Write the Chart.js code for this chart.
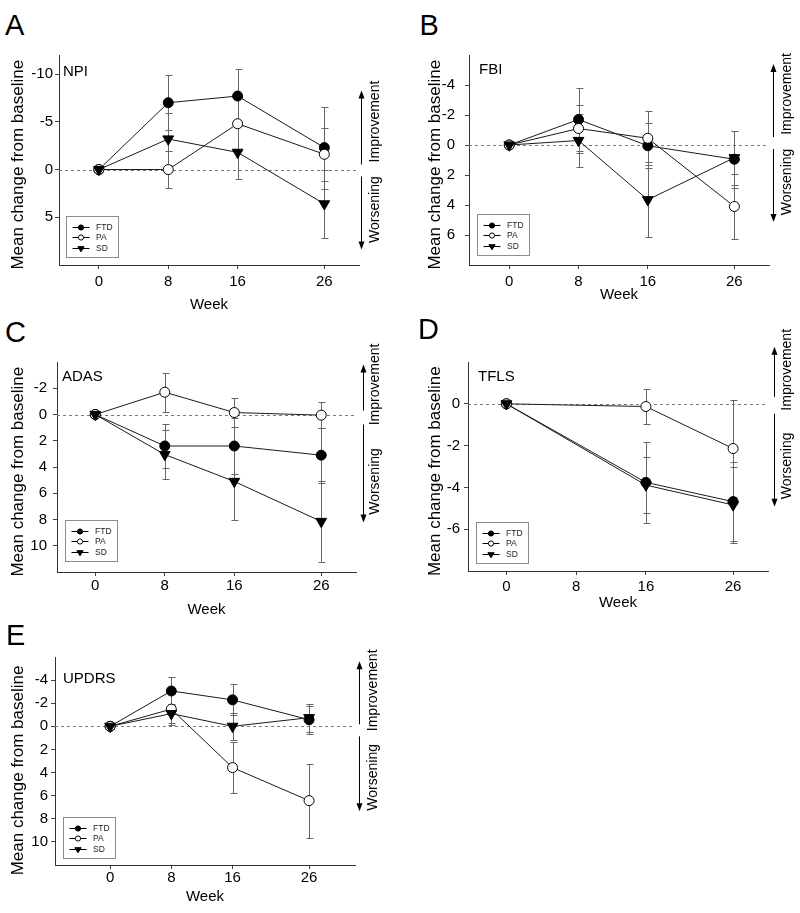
<!DOCTYPE html>
<html><head><meta charset="utf-8">
<script src="https://cdn.jsdelivr.net/npm/chart.js@4.4.1/dist/chart.umd.min.js"></script>
<style>
html,body{margin:0;padding:0;background:#fff}
body{width:800px;height:913px;position:relative;overflow:hidden;font-family:"Liberation Sans",Arial,sans-serif}
canvas{position:absolute}
.lbl{position:absolute;font-size:29px;line-height:29px;color:#000}
</style></head><body>
<script>
// ---------- data ----------
const weeks = [0, 8, 16, 26];
const groupNames = ['FTD', 'PA', 'SD'];

// A: NPI
const npiFTD = [0, -7.0, -7.7, -2.3];
const npiFTDsd = [0, 2.9, 2.8, 4.3];
const npiPA = [0, 0.0, -4.8, -1.6];
const npiPAsd = [0, 1.9, 2.9, 2.75];
const npiSD = [0, -3.2, -1.8, 3.6];
const npiSDsd = [0, 2.75, 2.8, 3.6];
const npiYTicks = [-10, -5, 0, 5];

// B: FBI
const fbiFTD = [0, -1.7, 0.05, 0.95];
const fbiFTDsd = [0, 2.1, 1.5, 1.9];
const fbiPA = [0, -1.1, -0.45, 4.1];
const fbiPAsd = [0, 1.6, 1.8, 2.15];
const fbiSD = [0, -0.3, 3.65, 0.85];
const fbiSDsd = [0, 1.75, 2.5, 1.8];
const fbiYTicks = [-4, -2, 0, 2, 4, 6];

// C: ADAS
const adasFTD = [0, 2.4, 2.4, 3.1];
const adasFTDsd = [0, 1.7, 2.1, 2.1];
const adasPA = [0, -1.7, -0.15, 0.05];
const adasPAsd = [0, 1.5, 1.07, 1.0];
const adasSD = [0, 3.05, 5.1, 8.15];
const adasSDsd = [0, 1.9, 2.9, 3.1];
const adasYTicks = [-2, 0, 2, 4, 6, 8, 10];

// D: TFLS (no week-8 assessment)
const tflsFTD = [0, null, -3.76, -4.68];
const tflsFTDsd = [0, null, 1.93, 1.88];
const tflsPA = [0, null, -0.13, -2.14];
const tflsPAsd = [0, null, 0.85, 2.33];
const tflsSD = [0, null, -3.89, -4.84];
const tflsSDsd = [0, null, 1.35, 1.8];
const tflsYTicks = [0, -2, -4, -6];

// E: UPDRS
const updrsFTD = [0, -3.06, -2.29, -0.57];
const updrsFTDsd = [0, 1.23, 1.34, 1.2];
const updrsPA = [0, -1.49, 3.57, 6.43];
const updrsPAsd = [0, 1.35, 2.2, 3.2];
const updrsSD = [0, -1.1, 0.0, -0.75];
const updrsSDsd = [0, 0.85, 1.15, 1.2];
const updrsYTicks = [-4, -2, 0, 2, 4, 6, 8, 10];

// ---------- layout ----------
const panels = [
  {letter:'A', letterPos:[5,11], name:'NPI', vals:[npiFTD,npiPA,npiSD], errs:[npiFTDsd,npiPAsd,npiSDsd], yTicks:npiYTicks,
   canvas:{x:0,y:0,w:400,h:316}, area:{l:59,t:55,r:359,b:265}, xRange:[-4.6,30], yRange:[-12,10], reverse:true,
   yTitleX:18, yTitleShift:2, yTickPad:2, xTickPad:4, xTitleY:305, nameAt:[4,17], legendAt:[7,8],
   arrows:{dx:2, tdx:16, up:[-5,-79], down:[7,80], imp:-48, wor:40}},
  {letter:'B', letterPos:[419.5,11], name:'FBI', vals:[fbiFTD,fbiPA,fbiSD], errs:[fbiFTDsd,fbiPAsd,fbiSDsd], yTicks:fbiYTicks,
   canvas:{x:400,y:0,w:400,h:316}, area:{l:469,t:55,r:769,b:265}, xRange:[-4.65,30], yRange:[-6,8], reverse:true,
   yTitleX:435, yTitleShift:2, yTickPad:10, xTickPad:4, xTitleY:295, nameAt:[10,15], legendAt:[8,10],
   arrows:{dx:4, tdx:18, up:[-8,-81], down:[4,77], imp:-51, wor:37}},
  {letter:'C', letterPos:[5,318], name:'ADAS', vals:[adasFTD,adasPA,adasSD], errs:[adasFTDsd,adasPAsd,adasSDsd], yTicks:adasYTicks,
   canvas:{x:0,y:310,w:400,h:312}, area:{l:57,t:362,r:356,b:572}, xRange:[-4.4,30], yRange:[-4,12], reverse:true,
   yTitleX:18.3, yTitleShift:2, yTickPad:6, xTickPad:1, xTitleY:610, nameAt:[5,15], legendAt:[8,11],
   arrows:{dx:7, tdx:19, up:[-4,-50], down:[10,108], imp:-30, wor:67}},
  {letter:'D', letterPos:[418,314.5], name:'TFLS', vals:[tflsFTD,tflsPA,tflsSD], errs:[tflsFTDsd,tflsPAsd,tflsSDsd], yTicks:tflsYTicks,
   canvas:{x:400,y:310,w:400,h:305}, area:{l:468,t:362,r:768,b:571}, xRange:[-4.4,30], yRange:[-8,2], reverse:false,
   yTitleX:435, yTitleShift:2, yTickPad:4, xTickPad:3, xTitleY:603.3, nameAt:[10,15], legendAt:[8,8],
   arrows:{dx:5.5, tdx:19, up:[-7,-57], down:[10,103], imp:-34, wor:62}},
  {letter:'E', letterPos:[6,621], name:'UPDRS', vals:[updrsFTD,updrsPA,updrsSD], errs:[updrsFTDsd,updrsPAsd,updrsSDsd], yTicks:updrsYTicks,
   canvas:{x:0,y:610,w:400,h:303}, area:{l:55,t:657,r:355,b:865}, xRange:[-7.2,32], yRange:[-6,12], reverse:true,
   yTitleX:18.3, yTitleShift:4, yTickPad:3, xTickPad:0, xTitleY:896.7, nameAt:[8,21.6], legendAt:[8,7],
   arrows:{dx:4.3, tdx:18, up:[-2,-65], down:[10,85], imp:-36, wor:51}}
];

const FONT = '"Liberation Sans", Arial, sans-serif';
Chart.defaults.font.family = FONT;
Chart.defaults.color = '#000';

const markerStyle = [
  {pointStyle:'circle', rotation:0, radius:5, fill:'#000'},
  {pointStyle:'circle', rotation:0, radius:5, fill:'#fff'},
  {pointStyle:'triangle', rotation:180, radius:6.2, fill:'#000'}
];

function drawMarker(ctx, i, x, y, r) {
  const m = markerStyle[i];
  ctx.save();
  ctx.lineWidth = 1; ctx.strokeStyle = '#000'; ctx.fillStyle = m.fill;
  ctx.beginPath();
  if (m.pointStyle === 'circle') {
    ctx.arc(x, y, r, 0, Math.PI * 2);
  } else {
    ctx.moveTo(x - r * 0.95, y - r * 0.55);
    ctx.lineTo(x + r * 0.95, y - r * 0.55);
    ctx.lineTo(x, y + r * 1.0);
    ctx.closePath();
  }
  ctx.fill(); ctx.stroke();
  ctx.restore();
}

const deco = {
  id: 'deco',
  beforeDatasetsDraw(chart, args, p) {
    const {ctx, chartArea: a, scales: {x, y}} = chart;
    const y0 = Math.round(y.getPixelForValue(0)) + 0.5;
    ctx.save();
    ctx.lineWidth = 1;
    ctx.strokeStyle = '#7a7a7a';
    ctx.setLineDash([3, 3]);
    ctx.beginPath(); ctx.moveTo(a.left, y0); ctx.lineTo(a.right, y0); ctx.stroke();
    ctx.setLineDash([]);
    ctx.strokeStyle = '#666';
    chart.data.datasets.forEach(ds => {
      ds.data.forEach(pt => {
        if (!pt.e) return;
        const px = Math.round(x.getPixelForValue(pt.x)) + 0.5;
        const yt = Math.round(y.getPixelForValue(pt.y - pt.e)) + 0.5;
        const yb = Math.round(y.getPixelForValue(pt.y + pt.e)) + 0.5;
        ctx.beginPath();
        ctx.moveTo(px, yt); ctx.lineTo(px, yb);
        ctx.moveTo(px - 3, yt); ctx.lineTo(px + 4, yt);
        ctx.moveTo(px - 3, yb); ctx.lineTo(px + 4, yb);
        ctx.stroke();
      });
    });
    ctx.restore();
  },
  afterDraw(chart, args, p) {
    const {ctx, chartArea: a, scales: {y}} = chart;
    const y0 = y.getPixelForValue(0);
    ctx.save();
    // panel name
    ctx.fillStyle = '#000';
    ctx.font = '15px ' + FONT;
    ctx.textAlign = 'left'; ctx.textBaseline = 'middle';
    ctx.fillText(p.name, a.left + p.nameAt[0], a.top + p.nameAt[1]);
    // arrows
    const ar = p.arrows;
    const ax = Math.round(a.right + ar.dx) + 0.5;
    ctx.strokeStyle = '#000'; ctx.lineWidth = 1;
    ctx.beginPath();
    ctx.moveTo(ax, y0 + ar.up[0]); ctx.lineTo(ax, y0 + ar.up[1] + 4);
    ctx.moveTo(ax, y0 + ar.down[0]); ctx.lineTo(ax, y0 + ar.down[1] - 4);
    ctx.stroke();
    ctx.beginPath();
    ctx.moveTo(ax, y0 + ar.up[1]); ctx.lineTo(ax - 3, y0 + ar.up[1] + 8); ctx.lineTo(ax + 3, y0 + ar.up[1] + 8); ctx.closePath();
    ctx.moveTo(ax, y0 + ar.down[1]); ctx.lineTo(ax - 3, y0 + ar.down[1] - 8); ctx.lineTo(ax + 3, y0 + ar.down[1] - 8); ctx.closePath();
    ctx.fill();
    ctx.font = '14px ' + FONT;
    ctx.textAlign = 'center'; ctx.textBaseline = 'middle';
    [[ar.imp, 'Improvement'], [ar.wor, 'Worsening']].forEach(([off, txt]) => {
      ctx.save();
      ctx.translate(a.right + ar.tdx, y0 + off);
      ctx.rotate(-Math.PI / 2);
      ctx.fillText(txt, 0, 0);
      ctx.restore();
    });
    // legend
    const bw = 52, bh = 41;
    const bx = Math.round(a.left + p.legendAt[0]) + 0.5;
    const by = Math.round(a.bottom - p.legendAt[1] - bh) + 0.5;
    ctx.strokeStyle = '#8c8c8c'; ctx.lineWidth = 1;
    ctx.strokeRect(bx, by, bw, bh);
    ctx.font = '8.5px ' + FONT;
    ctx.textAlign = 'left'; ctx.textBaseline = 'middle';
    chart.data.datasets.forEach((ds, i) => {
      const ry = Math.round(by + 10.3 + i * 10.6) + 0.5;
      ctx.strokeStyle = '#000';
      ctx.beginPath(); ctx.moveTo(bx + 6, ry); ctx.lineTo(bx + 23, ry); ctx.stroke();
      drawMarker(ctx, i, bx + 14.5, ry, i === 2 ? 3.3 : 2.6);
      ctx.fillStyle = '#222';
      ctx.fillText(ds.label, bx + 29.5, ry);
    });
    ctx.restore();
  }
};

function build(p) {
  const lbl = document.createElement('div');
  lbl.className = 'lbl';
  lbl.textContent = p.letter;
  lbl.style.left = p.letterPos[0] + 'px';
  lbl.style.top = p.letterPos[1] + 'px';
  document.body.appendChild(lbl);

  const cv = document.createElement('canvas');
  cv.width = p.canvas.w; cv.height = p.canvas.h;
  cv.style.left = p.canvas.x + 'px'; cv.style.top = p.canvas.y + 'px';
  cv.style.width = p.canvas.w + 'px'; cv.style.height = p.canvas.h + 'px';
  document.body.appendChild(cv);

  const datasets = groupNames.map((g, i) => ({
    label: g,
    data: weeks.map((w, j) => ({x: w, y: p.vals[i][j], e: p.errs[i][j]})).filter(d => d.y !== null),
    showLine: true,
    borderColor: '#1a1a1a',
    borderWidth: 1,
    pointStyle: markerStyle[i].pointStyle,
    rotation: markerStyle[i].rotation,
    pointRadius: markerStyle[i].radius,
    pointBackgroundColor: markerStyle[i].fill,
    pointBorderColor: '#000',
    pointBorderWidth: 1,
    order: 3 - i
  }));

  const yTitleLH = 17 * 1.2, xTitleLH = 15 * 1.2;
  // trailing no-break spaces nudge the rotated title a few px down, as in the original
  const yTitle = 'Mean change from baseline' + '\u00A0'.repeat(p.yTitleShift);
  new Chart(cv, {
    type: 'scatter',
    data: {datasets},
    plugins: [deco],
    options: {
      responsive: false, animation: false, devicePixelRatio: 1,
      events: [],
      layout: {autoPadding: false, padding: {left: 0, top: p.area.t - p.canvas.y, right: p.canvas.x + p.canvas.w - p.area.r, bottom: 0}},
      plugins: {legend: {display: false}, tooltip: {enabled: false}, deco: p},
      scales: {
        x: {
          type: 'linear', min: p.xRange[0], max: p.xRange[1],
          afterBuildTicks: s => { s.ticks = weeks.map(v => ({value: v})); },
          afterFit: s => { s.height = p.canvas.y + p.canvas.h - p.area.b; },
          grid: {display: true, drawOnChartArea: false, drawTicks: true, tickLength: 4, color: '#444'},
          border: {display: true, color: '#333', width: 1},
          ticks: {padding: p.xTickPad, color: '#000', font: {size: 15}, maxRotation: 0, autoSkip: false, callback: v => String(v)},
          title: {display: true, text: 'Week', color: '#000', font: {size: 15},
                  padding: {top: 0, bottom: p.canvas.h - (p.xTitleY - p.canvas.y) - xTitleLH / 2}}
        },
        y: {
          type: 'linear', min: p.yRange[0], max: p.yRange[1], reverse: p.reverse,
          afterBuildTicks: s => { s.ticks = p.yTicks.map(v => ({value: v})); },
          afterFit: s => { s.width = p.area.l - p.canvas.x; },
          grid: {display: true, drawOnChartArea: false, drawTicks: true, tickLength: 4, color: '#444'},
          border: {display: true, color: '#333', width: 1},
          ticks: {padding: p.yTickPad, color: '#000', font: {size: 15}, autoSkip: false, callback: v => String(v)},
          title: {display: true, text: yTitle, color: '#000', font: {size: 17},
                  padding: {top: p.yTitleX - p.canvas.x - yTitleLH / 2, bottom: 0}}
        }
      }
    }
  });
}
panels.forEach(build);
</script>
</body></html>
